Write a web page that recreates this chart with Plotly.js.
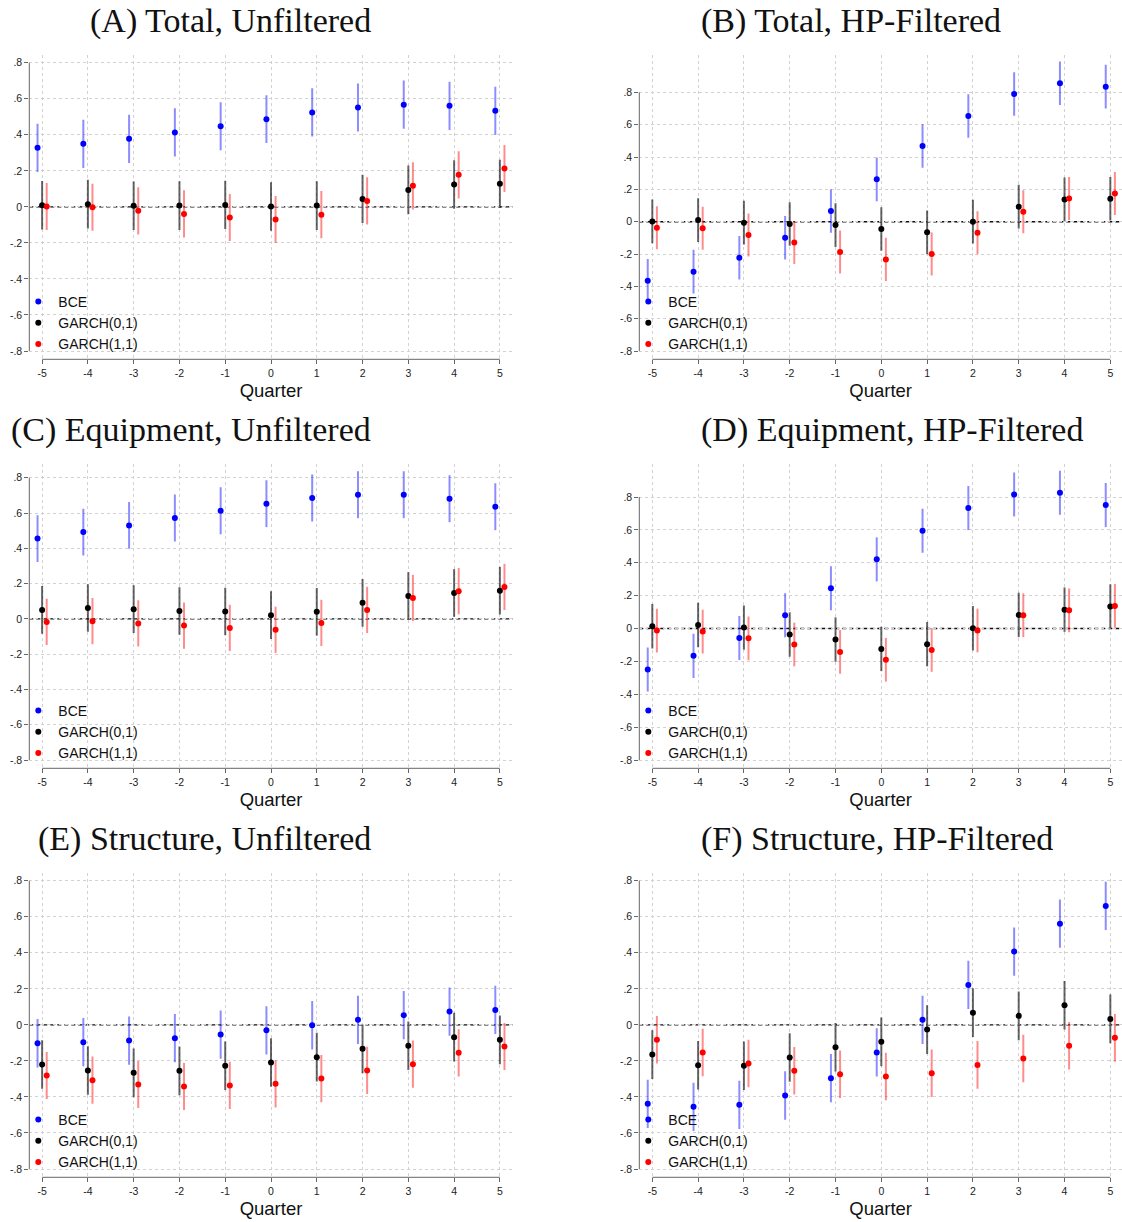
<!DOCTYPE html>
<html>
<head>
<meta charset="utf-8">
<script src="https://cdn.plot.ly/plotly-3.0.1.min.js"></script>
<style>html,body{margin:0;padding:0;background:#fff;}#chart{width:1122px;height:1222px;}</style>
</head>
<body>
<div id="chart"></div>
<script>
// ---------- shared categories / tick labels ----------
const quarters = [-5, -4, -3, -2, -1, 0, 1, 2, 3, 4, 5];
const yTickVals = [-0.8, -0.6, -0.4, -0.2, 0, 0.2, 0.4, 0.6, 0.8];
const yTickText = ['-.8', '-.6', '-.4', '-.2', '0', '.2', '.4', '.6', '.8'];
const seriesNames = ['BCE', 'GARCH(0,1)', 'GARCH(1,1)'];
const xAxisTitle = 'Quarter';
const panelTitles = ['(A) Total, Unfiltered', '(B) Total, HP-Filtered',
  '(C) Equipment, Unfiltered', '(D) Equipment, HP-Filtered',
  '(E) Structure, Unfiltered', '(F) Structure, HP-Filtered'];

// ---------- (A) Total, Unfiltered ----------
const totUnfBCE    = [0.328, 0.350, 0.378, 0.413, 0.448, 0.487, 0.524, 0.552, 0.567, 0.561, 0.533];
const totUnfBCEci  = [0.134, 0.134, 0.134, 0.134, 0.133, 0.133, 0.134, 0.133, 0.134, 0.134, 0.134];
const totUnfG01    = [0.009, 0.015, 0.006, 0.007, 0.011, 0.002, 0.007, 0.044, 0.094, 0.124, 0.128];
const totUnfG01ci  = [0.135, 0.135, 0.135, 0.135, 0.134, 0.135, 0.135, 0.134, 0.135, 0.135, 0.134];
const totUnfG11    = [0.002, -0.002, -0.022, -0.039, -0.059, -0.070, -0.043, 0.033, 0.117, 0.178, 0.213];
const totUnfG11ci  = [0.131, 0.131, 0.131, 0.131, 0.131, 0.131, 0.131, 0.131, 0.131, 0.131, 0.131];

// ---------- (B) Total, HP-Filtered ----------
const totHPBCE     = [-0.365, -0.309, -0.223, -0.099, 0.066, 0.262, 0.468, 0.654, 0.790, 0.856, 0.835];
const totHPBCEci   = [0.135, 0.135, 0.135, 0.135, 0.135, 0.135, 0.135, 0.135, 0.135, 0.135, 0.135];
const totHPG01     = [0.002, 0.010, -0.006, -0.014, -0.021, -0.045, -0.066, 0.000, 0.093, 0.138, 0.142];
const totHPG01ci   = [0.135, 0.135, 0.135, 0.135, 0.135, 0.135, 0.135, 0.135, 0.135, 0.135, 0.135];
const totHPG11     = [-0.037, -0.041, -0.082, -0.128, -0.188, -0.233, -0.200, -0.068, 0.062, 0.144, 0.175];
const totHPG11ci   = [0.133, 0.133, 0.133, 0.133, 0.133, 0.133, 0.133, 0.133, 0.133, 0.133, 0.133];

// ---------- (C) Equipment, Unfiltered ----------
const eqUnfBCE     = [0.455, 0.492, 0.530, 0.572, 0.613, 0.653, 0.685, 0.704, 0.704, 0.681, 0.636];
const eqUnfBCEci   = [0.133, 0.133, 0.133, 0.133, 0.133, 0.133, 0.133, 0.133, 0.133, 0.133, 0.133];
const eqUnfG01     = [0.051, 0.062, 0.055, 0.045, 0.042, 0.021, 0.040, 0.091, 0.130, 0.147, 0.160];
const eqUnfG01ci   = [0.135, 0.135, 0.135, 0.135, 0.135, 0.135, 0.135, 0.135, 0.135, 0.135, 0.135];
const eqUnfG11     = [-0.017, -0.013, -0.026, -0.038, -0.051, -0.062, -0.023, 0.051, 0.119, 0.157, 0.181];
const eqUnfG11ci   = [0.131, 0.131, 0.131, 0.131, 0.131, 0.131, 0.131, 0.131, 0.131, 0.131, 0.131];

// ---------- (D) Equipment, HP-Filtered ----------
const eqHPBCE      = [-0.249, -0.166, -0.057, 0.081, 0.245, 0.421, 0.595, 0.733, 0.816, 0.826, 0.751];
const eqHPBCEci    = [0.134, 0.134, 0.134, 0.134, 0.134, 0.134, 0.134, 0.134, 0.134, 0.134, 0.134];
const eqHPG01      = [0.014, 0.022, 0.006, -0.036, -0.067, -0.124, -0.095, 0.002, 0.083, 0.115, 0.134];
const eqHPG01ci    = [0.135, 0.135, 0.135, 0.135, 0.135, 0.135, 0.135, 0.135, 0.135, 0.135, 0.135];
const eqHPG11      = [-0.012, -0.018, -0.059, -0.097, -0.142, -0.190, -0.130, -0.012, 0.081, 0.111, 0.138];
const eqHPG11ci    = [0.133, 0.133, 0.133, 0.133, 0.133, 0.133, 0.133, 0.133, 0.133, 0.133, 0.133];

// ---------- (E) Structure, Unfiltered ----------
const stUnfBCE     = [-0.102, -0.096, -0.087, -0.074, -0.054, -0.030, -0.002, 0.028, 0.054, 0.074, 0.083];
const stUnfBCEci   = [0.134, 0.134, 0.134, 0.134, 0.134, 0.134, 0.134, 0.134, 0.134, 0.134, 0.134];
const stUnfG01     = [-0.220, -0.253, -0.266, -0.255, -0.227, -0.209, -0.179, -0.133, -0.116, -0.068, -0.083];
const stUnfG01ci   = [0.135, 0.135, 0.135, 0.135, 0.135, 0.135, 0.135, 0.135, 0.135, 0.135, 0.135];
const stUnfG11     = [-0.281, -0.307, -0.331, -0.342, -0.336, -0.327, -0.298, -0.253, -0.218, -0.155, -0.120];
const stUnfG11ci   = [0.131, 0.131, 0.131, 0.131, 0.131, 0.131, 0.131, 0.131, 0.131, 0.131, 0.131];

// ---------- (F) Structure, HP-Filtered ----------
const stHPBCE      = [-0.438, -0.455, -0.444, -0.392, -0.296, -0.153, 0.028, 0.222, 0.407, 0.562, 0.660];
const stHPBCEci    = [0.134, 0.134, 0.134, 0.134, 0.134, 0.134, 0.134, 0.134, 0.134, 0.134, 0.134];
const stHPG01      = [-0.165, -0.224, -0.227, -0.181, -0.124, -0.094, -0.026, 0.068, 0.050, 0.109, 0.033];
const stHPG01ci    = [0.135, 0.135, 0.135, 0.135, 0.135, 0.135, 0.135, 0.135, 0.135, 0.135, 0.135];
const stHPG11      = [-0.083, -0.153, -0.214, -0.255, -0.274, -0.287, -0.268, -0.222, -0.187, -0.116, -0.072];
const stHPG11ci    = [0.132, 0.132, 0.132, 0.132, 0.132, 0.132, 0.132, 0.132, 0.132, 0.132, 0.132];

// ---------- styles ----------
const W = 1122, H = 1222;
const dotColors = ['#0000ff', '#000000', '#ff0000'];
const barColors = ['rgba(0,0,255,0.45)', 'rgba(0,0,0,0.6)', 'rgba(255,0,0,0.45)'];
const xOffsets = [-0.1, 0, 0.1];
const sansFont = 'Liberation Sans, Arial, Helvetica, sans-serif';
const serifFont = 'Liberation Serif, Times New Roman, serif';

const panelData = [
  [[totUnfBCE, totUnfBCEci], [totUnfG01, totUnfG01ci], [totUnfG11, totUnfG11ci]],
  [[totHPBCE, totHPBCEci], [totHPG01, totHPG01ci], [totHPG11, totHPG11ci]],
  [[eqUnfBCE, eqUnfBCEci], [eqUnfG01, eqUnfG01ci], [eqUnfG11, eqUnfG11ci]],
  [[eqHPBCE, eqHPBCEci], [eqHPG01, eqHPG01ci], [eqHPG11, eqHPG11ci]],
  [[stUnfBCE, stUnfBCEci], [stUnfG01, stUnfG01ci], [stUnfG11, stUnfG11ci]],
  [[stHPBCE, stHPBCEci], [stHPG01, stHPG01ci], [stHPG11, stHPG11ci]]
];

// pixel geometry of each plot region
const colX = [[29.3, 512.7], [639.3, 1122]];
const rowY = [[55, 359.3], [464, 768.3], [873, 1177.3]];
const xRanges = [[-5.28, 5.28], [-5.284, 5.255]];
const yRanges = [[-0.846, 0.843], [-0.851, 1.031], [-0.847, 0.878], [-0.850, 1.001], [-0.846, 0.843], [-0.846, 0.843]];
// left column titles end near x=373, right column titles start near x=699
const titleAnchor = [[373, 'right'], [699, 'left']];
const titleRowY = [21, 430, 839];

const traces = [];
const layout = {
  width: W, height: H,
  margin: {l: 0, r: 0, t: 0, b: 0},
  paper_bgcolor: '#ffffff', plot_bgcolor: '#ffffff',
  font: {family: sansFont, color: '#222'},
  shapes: [], annotations: [],
  showlegend: true
};

panelData.forEach((series, p) => {
  const sfx = p === 0 ? '' : String(p + 1);
  const col = p % 2, row = Math.floor(p / 2);
  const [xl, xr] = colX[col];
  const [yt, yb] = rowY[row];
  const legName = 'legend' + sfx;

  series.forEach(([vals, ci], s) => {
    traces.push({
      type: 'scatter', mode: 'markers',
      name: seriesNames[s],
      x: quarters.map(q => q + xOffsets[s]),
      y: vals,
      xaxis: 'x' + sfx, yaxis: 'y' + sfx,
      legend: legName,
      marker: {color: dotColors[s], size: 6},
      error_y: {type: 'data', array: ci, symmetric: true, color: barColors[s], thickness: 2, width: 0},
      hoverinfo: 'x+y+name'
    });
  });

  layout['xaxis' + sfx] = {
    domain: [xl / W, xr / W], anchor: 'y' + sfx,
    range: xRanges[col],
    tickmode: 'array', tickvals: quarters, ticktext: quarters.map(String),
    ticks: 'outside', ticklen: 4, tickwidth: 1, tickcolor: '#666',
    tickfont: {family: sansFont, size: 10.5, color: '#222'},
    showline: false, zeroline: false,
    showgrid: true, gridcolor: '#d2d2d2', gridwidth: 1, griddash: 'dot',
    title: {text: xAxisTitle, font: {family: sansFont, size: 18.5, color: '#111'}, standoff: 6},
    automargin: false, fixedrange: true
  };
  layout['yaxis' + sfx] = {
    domain: [1 - yb / H, 1 - yt / H], anchor: 'x' + sfx,
    range: yRanges[p],
    tickmode: 'array', tickvals: yTickVals, ticktext: yTickText,
    ticks: 'outside', ticklen: 4, tickwidth: 1, tickcolor: '#666',
    tickfont: {family: sansFont, size: 10.5, color: '#222'},
    showline: false, zeroline: false,
    showgrid: true, gridcolor: '#d2d2d2', gridwidth: 1, griddash: 'dot',
    automargin: false, fixedrange: true
  };

  // axis lines spanning only the labelled tick range (Stata style)
  layout.shapes.push({type: 'line', xref: 'x' + sfx + ' domain', x0: 0, x1: 0,
    yref: 'y' + sfx, y0: yTickVals[0], y1: yTickVals[yTickVals.length - 1],
    line: {color: '#666', width: 1}});
  layout.shapes.push({type: 'line', xref: 'x' + sfx, x0: quarters[0], x1: quarters[quarters.length - 1],
    yref: 'y' + sfx + ' domain', y0: 0, y1: 0,
    line: {color: '#666', width: 1}});
  // dashed reference line at zero
  layout.shapes.push({type: 'line', layer: 'below', xref: 'x' + sfx + ' domain', x0: 0, x1: 1,
    yref: 'y' + sfx, y0: 0, y1: 0,
    line: {color: '#111', width: 1.4, dash: '4px,3px'}});

  layout.annotations.push({
    text: panelTitles[p], xref: 'paper', yref: 'paper',
    x: titleAnchor[col][0] / W, y: 1 - titleRowY[row] / H,
    xanchor: titleAnchor[col][1], yanchor: 'middle', showarrow: false,
    font: {family: serifFont, size: 34, color: '#111'}
  });

  layout[legName] = {
    x: (xl - 11) / W, y: 1 - (yt + 231) / H,
    xanchor: 'left', yanchor: 'top',
    bgcolor: 'rgba(0,0,0,0)', borderwidth: 0,
    font: {family: sansFont, size: 14, color: '#111'},
    itemsizing: 'trace', itemwidth: 30, tracegroupgap: 0
  };
});

Plotly.newPlot('chart', traces, layout, {staticPlot: true, displayModeBar: false});
</script>
</body>
</html>
